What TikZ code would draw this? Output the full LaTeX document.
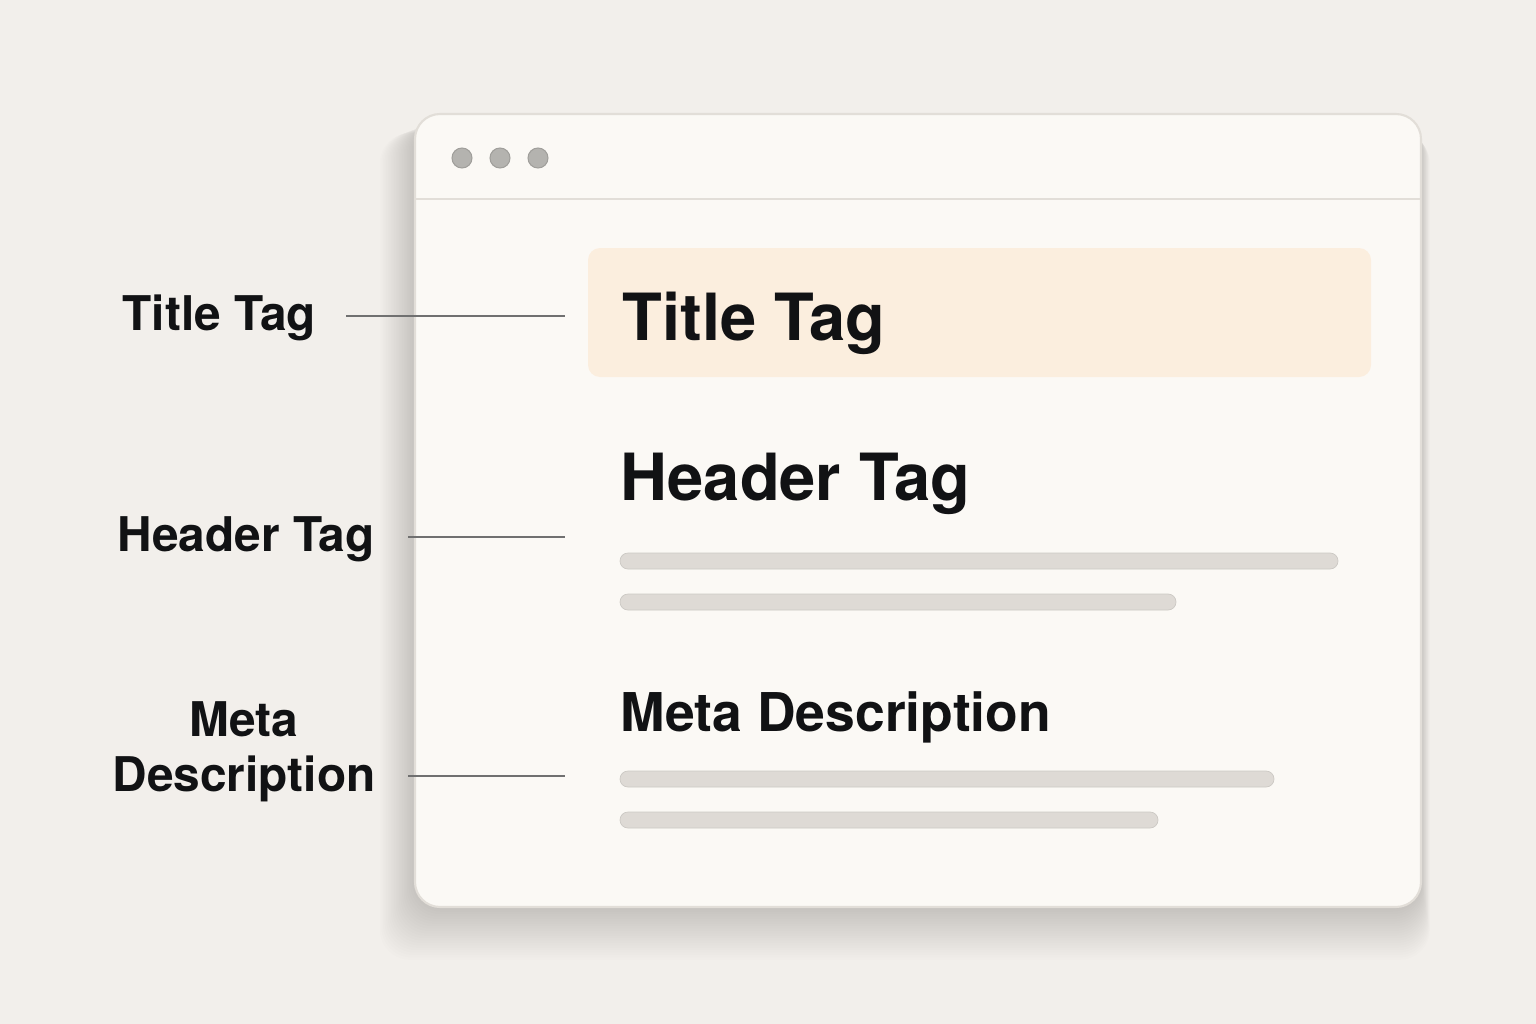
\documentclass[tikz,border=0pt]{standalone}
\usepackage{fontspec}
\setmainfont{TeX Gyre Heros}
\definecolor{bgc}{HTML}{F2EFEB}
\definecolor{winc}{HTML}{FBF9F5}
\definecolor{winb}{HTML}{E2DED8}
\definecolor{dotc}{HTML}{B4B3AF}
\definecolor{dotb}{HTML}{A09F9B}
\definecolor{hlc}{HTML}{FBEEDE}
\definecolor{barc}{HTML}{DEDAD5}
\definecolor{inkc}{HTML}{111214}
\definecolor{linec}{HTML}{707070}
\begin{document}
\begin{tikzpicture}[x=0.01cm,y=-0.01cm,
  bigtxt/.style={inner sep=0pt,text=inkc,font=\fontsize{18.5}{22}\bfseries\selectfont,anchor=base west},
  midtxt/.style={inner sep=0pt,text=inkc,font=\fontsize{15.2}{18}\bfseries\selectfont,anchor=base west},
  labtxt/.style={inner sep=0pt,text=inkc,font=\fontsize{13.6}{15.6}\bfseries\selectfont},
  barstyle/.style={fill=barc,draw=barc!92!black,line width=0.2pt,rounded corners=0.08cm},
  conn/.style={draw=linec,line width=0.7pt},
  dotstyle/.style={circle,fill=dotc,draw=dotb,line width=0.3pt,minimum size=0.2cm,inner sep=0pt}]
% background
\fill[bgc] (0,0) rectangle (1536,1024);
\useasboundingbox (0,0) rectangle (1536,1024);
% soft shadow layers
\foreach \i in {1,...,22}{
  \fill[black,fill opacity=0.008,rounded corners=0.3cm]
    (415-1.6*\i,120+0.6*\i) rectangle (1421+0.4*\i,907+2.4*\i);
}
% window
\draw[fill=winc,draw=winb,line width=0.6pt,rounded corners=0.25cm] (415,114) rectangle (1421,907);
\draw[winb,line width=0.8pt] (415,199) -- (1420,199);
% dots
\node[dotstyle] (d1) at (462,158) {};
\node[dotstyle] (d2) at (500,158) {};
\node[dotstyle] (d3) at (538,158) {};
% title highlight
\fill[hlc,rounded corners=0.12cm] (588,248) rectangle (1371,377);
\node[bigtxt] (ttitle) at (622,340) {Title Tag};
% header
\node[bigtxt] (theader) at (620,500) {Header Tag};
\fill[barstyle] (620,553) rectangle (1338,569);
\fill[barstyle] (620,594) rectangle (1176,610);
% meta
\node[midtxt] (tmeta) at (620,731) {Meta Description};
\fill[barstyle] (620,771) rectangle (1274,787);
\fill[barstyle] (620,812) rectangle (1158,828);
% left labels
\node[labtxt,anchor=base west] (ltitle) at (122,330) {Title Tag};
\node[labtxt,anchor=base west] (lheader) at (117,551) {Header Tag};
\node[labtxt,align=center,anchor=north] (lmeta) at (244,701) {Meta\\Description};
% connector ends
\coordinate (ct1) at (346,316);
\coordinate (ct2) at (565,316);
\coordinate (ch1) at (408,537);
\coordinate (ch2) at (565,537);
\coordinate (cm1) at (408,776);
\coordinate (cm2) at (565,776);
\draw[conn] (ct1) -- (ct2);
\draw[conn] (ch1) -- (ch2);
\draw[conn] (cm1) -- (cm2);
\end{tikzpicture}
\end{document}
